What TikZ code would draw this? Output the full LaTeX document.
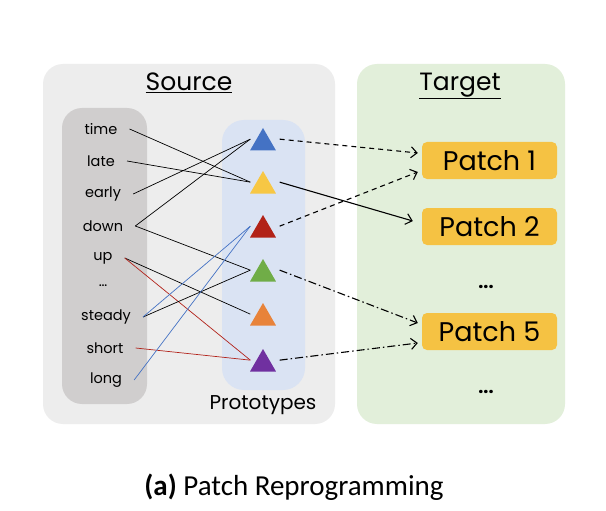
\documentclass[tikz,border=0pt]{standalone}
\usepackage{fontspec}
\setmainfont{Poppins}
\newfontfamily\capfont{Carlito}
\usetikzlibrary{arrows.meta,shapes.geometric,calc}
\definecolor{srcbg}{HTML}{EDEDED}
\definecolor{tgtbg}{HTML}{E2EFDA}
\definecolor{wordbg}{HTML}{D0CECE}
\definecolor{protobg}{HTML}{DAE3F3}
\definecolor{patchc}{HTML}{F5C243}
\definecolor{tblue}{HTML}{4472C4}
\definecolor{tyellow}{HTML}{F7C744}
\definecolor{tred}{HTML}{B22217}
\definecolor{tgreen}{HTML}{70AD47}
\definecolor{torange}{HTML}{E8833A}
\definecolor{tpurple}{HTML}{7030A0}
\definecolor{lred}{HTML}{B2221A}
\begin{document}
\begin{tikzpicture}[x=1pt,y=-1pt,
  panel/.style={rounded corners=20pt, inner sep=0pt},
  word/.style={font=\fontsize{14.5}{16}\selectfont, inner sep=2pt},
  tri/.style={regular polygon, regular polygon sides=3, minimum size=30pt, inner sep=0pt},
  patch/.style={fill=patchc, rounded corners=5pt, minimum width=135pt, minimum height=37pt, inner sep=0pt, font=\fontsize{27}{29}\selectfont},
  title/.style={font=\fontsize{25}{27}\selectfont},
  link/.style={line width=0.7pt},
  arr/.style={line width=1.1pt, -{Straight Barb[length=6pt,width=11pt,line width=1.1pt]}},
  dashd/.style={dash pattern=on 5pt off 4pt},
  dashdot/.style={dash pattern=on 8pt off 3pt on 1.5pt off 3pt},
  dots/.style={font=\fontsize{18}{20}\selectfont\bfseries}
]
\useasboundingbox (0,0) rectangle (606,511);
\fill[white] (0,0) rectangle (606,511);

% panels
\node[panel, fill=srcbg, minimum width=292pt, minimum height=360pt] (srcpanel) at (189,244) {};
\node[panel, fill=tgtbg, minimum width=208pt, minimum height=360pt] (tgtpanel) at (461,244) {};
\node[panel, fill=wordbg, minimum width=85pt, minimum height=296pt] (wordcol) at (104.5,256) {};
\node[panel, fill=protobg, minimum width=83pt, minimum height=270pt, rounded corners=22pt] (protocol) at (263.5,255) {};

% titles
\node[title] (srctitle) at (189,83) {\underline{Source}};
\node[title] (tgttitle) at (460,86) {\underline{Target}};
\node[font=\fontsize{20}{22}\selectfont] (protolabel) at (263,405) {Prototypes};

% words
\node[word] (w1) at (101,129) {time};
\node[word] (w2) at (101,161) {late};
\node[word] (w3) at (103,194) {early};
\node[word] (w4) at (103,226) {down};
\node[word] (w5) at (103,258) {up};
\node[word] (w6) at (103,286) {\dots};
\node[word] (w7) at (106,317) {steady};
\node[word] (w8) at (105,348) {short};
\node[word] (w9) at (106,380) {long};

% triangles
\node[tri, fill=tblue]   (tb) at (263,143) {};
\node[tri, fill=tyellow] (ty) at (263,186) {};
\node[tri, fill=tred]    (tr) at (263,230) {};
\node[tri, fill=tgreen]  (tg) at (263,274) {};
\node[tri, fill=torange] (to) at (263,318) {};
\node[tri, fill=tpurple] (tp) at (263,364) {};

\foreach \t in {tb,ty,tr,tg,to,tp}{
  \coordinate (\t in) at ([xshift=-6pt]\t.side 1);
  \coordinate (\t out) at ([xshift=10pt]\t.side 3);
}
\foreach \w in {w1,w2,w3,w4,w5,w7,w8,w9}{
  \coordinate (\w r) at ([xshift=10pt]\w.east);
}

% patches
\node[patch] (p1) at (489.5,160.5) {Patch 1};
\node[patch] (p2) at (489.5,226.5) {Patch 2};
\node[patch] (p5) at (489.5,331.5) {Patch 5};
\node[dots] (d1) at (486,287) {...};
\node[dots] (d2) at (486,392) {...};

% word-to-prototype links
\draw[link] (w1r) -- (tyin);
\draw[link] (w2r) -- (tyin);
\draw[link] (w3r) -- (tbin);
\draw[link] (w4r) -- (tbin);
\draw[link] (w4r) -- (tgin);
\draw[link] (w5r) -- (toin);
\draw[link, lred] (w5r) -- (tpin);
\draw[link] (w7r) -- (tgin);
\draw[link, tblue] (w7r) -- (trin);
\draw[link, lred] (w8r) -- (tpin);
\draw[link, tblue] (w9r) -- (trin);

% prototype-to-patch arrows
\coordinate (p1a) at ([xshift=-4pt,yshift=7.5pt]p1.west);
\coordinate (p1b) at ([xshift=-4pt,yshift=-11.5pt]p1.west);
\coordinate (p2a) at ([xshift=-9pt,yshift=5.5pt]p2.west);
\coordinate (p5a) at ([xshift=-4pt,yshift=8.5pt]p5.west);
\coordinate (p5b) at ([xshift=-4pt,yshift=-11.5pt]p5.west);
\draw[arr, dashd] (tbout) -- (p1a);
\draw[arr] (tyout) -- (p2a);
\draw[arr, dashd] (trout) -- (p1b);
\draw[arr, dashdot] (tgout) -- (p5a);
\draw[arr, dashdot] (tpout) -- (p5b);

% caption
\node[font=\capfont\fontsize{29}{31}\selectfont] (cap) at (294,487) {\textbf{(a)} Patch Reprogramming};
\end{tikzpicture}
\end{document}
